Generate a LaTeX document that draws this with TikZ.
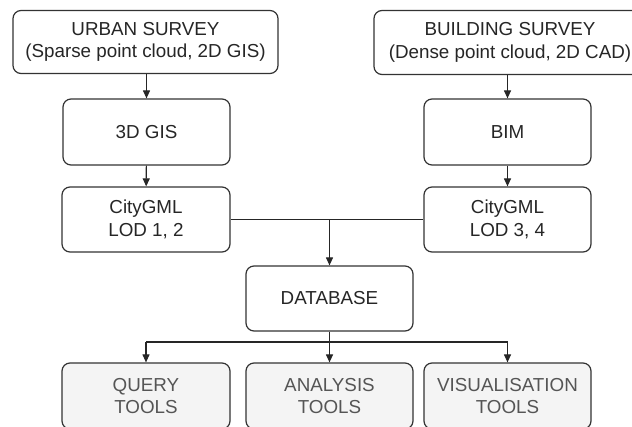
\documentclass[tikz,border=0pt]{standalone}
\usepackage{fontspec}
\setmainfont{Liberation Sans}
\usetikzlibrary{arrows.meta}
\definecolor{edgec}{HTML}{333333}
\definecolor{toolfill}{HTML}{F4F4F4}
\definecolor{tooltext}{HTML}{555555}
\begin{document}
\begin{tikzpicture}[x=1pt,y=-1pt,
  box/.style={draw=edgec,line width=1.2pt,rounded corners=8pt,fill=white,
    align=center,inner sep=0pt,text=black!85,
    font=\fontsize{18.8}{22.5}\selectfont},
  toolbox/.style={box,fill=toolfill,text=tooltext},
  conn/.style={draw=black!85,line width=1.1pt},
  arr/.style={conn,-{Stealth[length=8pt,width=7pt,inset=0pt]}}]
\useasboundingbox (0,0) rectangle (632,426);
\clip (0,0) rectangle (632,426);
\node[box,minimum width=265pt,minimum height=63pt] (urban) at (145.5,42) {URBAN SURVEY\\(Sparse point cloud, 2D GIS)};
\node[box,minimum width=272pt,minimum height=64pt] (building) at (510,42.5) {BUILDING SURVEY\\(Dense point cloud, 2D CAD)};
\node[box,minimum width=167pt,minimum height=66pt] (gis) at (146.5,132) {3D GIS};
\node[box,minimum width=167pt,minimum height=66pt] (bim) at (507.5,132) {BIM};
\node[box,minimum width=168pt,minimum height=65pt] (city1) at (146,219.5) {CityGML\\LOD 1, 2};
\node[box,minimum width=167pt,minimum height=65pt] (city2) at (507.5,219.5) {CityGML\\LOD 3, 4};
\node[box,minimum width=167pt,minimum height=65pt] (db) at (329.5,298.5) {DATABASE};
\node[toolbox,minimum width=168pt,minimum height=66pt] (query) at (146,396) {QUERY\\TOOLS};
\node[toolbox,minimum width=167pt,minimum height=66pt] (analysis) at (329.5,396) {ANALYSIS\\TOOLS};
\node[toolbox,minimum width=167pt,minimum height=66pt] (visual) at (507.5,396) {VISUALISATION\\TOOLS};
\coordinate (join) at (db.north |- city1.east);
\coordinate (split) at (329.5,342);
\draw[arr] (building.south -| bim.north) -- (bim.north);
\draw[arr] (urban.south -| gis.north) -- (gis.north);
\draw[arr] (gis) -- (city1);
\draw[arr] (bim) -- (city2);
\draw[conn] (city1.east) -- (city2.west);
\draw[arr] (join) -- (db.north);
\draw[arr] (db.south) -- (analysis.north);
\draw[conn] (query.north |- split) -- (visual.north |- split);
\draw[arr] (query.north |- split) -- (query.north);
\draw[arr] (visual.north |- split) -- (visual.north);
\end{tikzpicture}
\end{document}
